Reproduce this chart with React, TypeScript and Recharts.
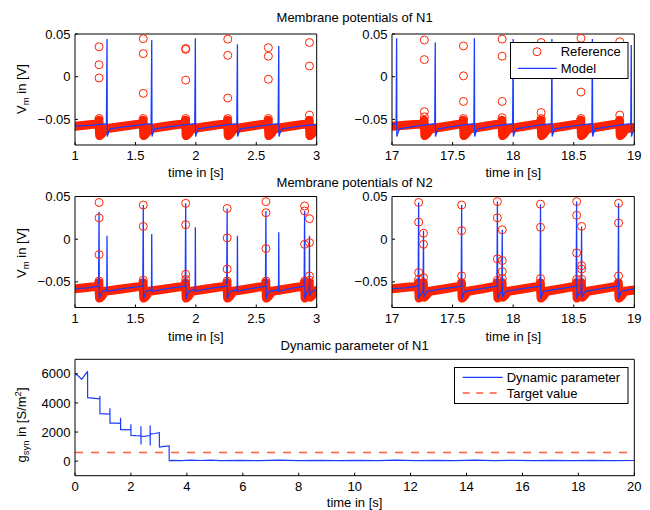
import React from 'react';
import { ComposedChart, Line, Scatter, XAxis, YAxis } from 'recharts';

type P = [number, number];

const W = 650;
const H = 510;
const FONT = '"Liberation Sans", Arial, Helvetica, sans-serif';
const RED = '#ff2200';
const BLUE = '#1a3cff';
const TARGET_RED = '#ff5a3c';

const V_DOMAIN: [number, number] = [-0.08, 0.05];
const V_TICKS = [-0.05, 0, 0.05];
const EARLY_TICKS = [1, 1.5, 2, 2.5, 3];
const LATE_TICKS = [17, 17.5, 18, 18.5, 19];
const G_DOMAIN: [number, number] = [-1000, 7000];
const G_TICKS = [0, 2000, 4000, 6000];
const G_TIME_TICKS = [0, 2, 4, 6, 8, 10, 12, 14, 16, 18, 20];
const TARGET = 600;

// N1, 1..3 s
const N1_EARLY_BAND: P[] = [
  [1.0, -0.058], [1.1, -0.0565], [1.19, -0.055], [1.198, -0.051], [1.204, -0.069], [1.22, -0.067], [1.25, -0.061],
  [1.4, -0.058], [1.555, -0.055], [1.563, -0.051], [1.569, -0.069], [1.585, -0.067], [1.615, -0.061],
  [1.75, -0.058], [1.906, -0.055], [1.914, -0.051], [1.92, -0.069], [1.936, -0.067], [1.966, -0.061],
  [2.1, -0.058], [2.254, -0.055], [2.262, -0.051], [2.268, -0.069], [2.284, -0.067], [2.314, -0.061],
  [2.45, -0.058], [2.59, -0.055], [2.598, -0.051], [2.604, -0.069], [2.62, -0.067], [2.65, -0.061],
  [2.78, -0.058], [2.93, -0.055], [2.938, -0.051], [2.944, -0.069], [2.96, -0.067], [2.99, -0.061], [3.0, -0.06],
];
const N1_EARLY_DOTS: P[] = [
  [1.199, 0.035], [1.199, 0.014], [1.199, -0.0015], [1.199, -0.049],
  [1.565, 0.0445], [1.565, 0.027], [1.565, -0.0195], [1.565, -0.049],
  [1.916, 0.033], [1.916, 0.032], [1.916, -0.004], [1.916, -0.049],
  [2.264, 0.044], [2.264, 0.025], [2.264, -0.025], [2.264, -0.049],
  [2.6, 0.034], [2.6, 0.024], [2.6, -0.003], [2.6, -0.049],
  [2.94, 0.04], [2.94, 0.0125], [2.94, -0.045],
];
const N1_EARLY_MODEL: P[] = [
  [1.0, -0.058], [1.13, -0.057], [1.26, -0.055], [1.265, 0.044], [1.267, -0.07], [1.275, -0.066], [1.29, -0.061],
  [1.45, -0.058], [1.63, -0.055], [1.635, 0.043], [1.637, -0.07], [1.645, -0.066], [1.66, -0.061],
  [1.82, -0.058], [1.991, -0.055], [1.996, 0.045], [1.998, -0.07], [2.006, -0.066], [2.021, -0.061],
  [2.17, -0.058], [2.339, -0.055], [2.344, 0.038], [2.346, -0.07], [2.354, -0.066], [2.369, -0.061],
  [2.52, -0.058], [2.681, -0.055], [2.686, 0.036], [2.688, -0.07], [2.696, -0.066], [2.711, -0.061],
  [2.86, -0.058], [3.0, -0.056],
];

// N1, 17..19 s
const N1_LATE_BAND: P[] = [
  [17.0, -0.058], [17.13, -0.0565], [17.257, -0.055], [17.265, -0.051], [17.271, -0.069], [17.287, -0.067], [17.317, -0.061],
  [17.45, -0.058], [17.58, -0.055], [17.588, -0.051], [17.594, -0.069], [17.61, -0.067], [17.64, -0.061],
  [17.77, -0.058], [17.899, -0.055], [17.907, -0.051], [17.913, -0.069], [17.929, -0.067], [17.959, -0.061],
  [18.09, -0.058], [18.221, -0.055], [18.229, -0.051], [18.235, -0.069], [18.251, -0.067], [18.281, -0.061],
  [18.42, -0.058], [18.55, -0.055], [18.558, -0.051], [18.564, -0.069], [18.58, -0.067], [18.61, -0.061],
  [18.74, -0.058], [18.87, -0.055], [18.878, -0.051], [18.884, -0.069], [18.9, -0.067], [18.93, -0.061], [19.0, -0.0595],
];
const N1_LATE_DOTS: P[] = [
  [17.267, 0.043], [17.267, 0.02], [17.267, -0.041], [17.267, -0.047],
  [17.59, 0.036], [17.59, 0.001], [17.59, -0.029], [17.59, -0.049],
  [17.909, 0.044], [17.909, 0.024], [17.909, -0.029], [17.909, -0.048],
  [18.231, 0.04], [18.231, -0.042], [18.231, -0.049],
  [18.56, 0.045], [18.56, -0.018], [18.56, -0.049],
  [18.88, 0.041], [18.88, -0.045],
];
const N1_LATE_MODEL: P[] = [
  [17.0, -0.056], [17.034, -0.055], [17.038, 0.045], [17.04, -0.07], [17.048, -0.066], [17.063, -0.061],
  [17.2, -0.058], [17.353, -0.055], [17.357, 0.04], [17.359, -0.07], [17.367, -0.066], [17.382, -0.061],
  [17.52, -0.058], [17.676, -0.055], [17.68, 0.045], [17.682, -0.07], [17.69, -0.066], [17.705, -0.061],
  [17.84, -0.058], [17.996, -0.055], [18.0, 0.044], [18.002, -0.07], [18.01, -0.066], [18.025, -0.061],
  [18.16, -0.058], [18.316, -0.055], [18.32, 0.044], [18.322, -0.07], [18.33, -0.066], [18.345, -0.061],
  [18.49, -0.058], [18.65, -0.055], [18.654, 0.044], [18.656, -0.07], [18.664, -0.066], [18.679, -0.061],
  [18.82, -0.058], [18.971, -0.055], [18.975, 0.037], [18.977, -0.07], [18.985, -0.066], [19.0, -0.063],
];

// N2, 1..3 s
const N2_EARLY_BAND: P[] = [
  [1.0, -0.058], [1.1, -0.0565], [1.189, -0.055], [1.197, -0.051], [1.203, -0.069], [1.219, -0.067], [1.249, -0.061],
  [1.4, -0.058], [1.555, -0.055], [1.563, -0.051], [1.569, -0.069], [1.585, -0.067], [1.615, -0.061],
  [1.76, -0.058], [1.906, -0.055], [1.914, -0.051], [1.92, -0.069], [1.936, -0.067], [1.966, -0.061],
  [2.1, -0.058], [2.249, -0.055], [2.257, -0.051], [2.263, -0.069], [2.279, -0.067], [2.309, -0.061],
  [2.44, -0.058], [2.57, -0.055], [2.578, -0.051], [2.584, -0.069], [2.6, -0.067], [2.63, -0.061],
  [2.76, -0.058], [2.89, -0.055], [2.898, -0.051], [2.904, -0.069], [2.92, -0.066], [2.935, -0.062],
  [2.938, -0.051], [2.944, -0.068], [2.96, -0.066], [2.985, -0.061], [3.0, -0.06],
];
const N2_EARLY_DOTS: P[] = [
  [1.199, 0.043], [1.199, 0.025], [1.199, -0.018], [1.199, -0.049],
  [1.565, 0.04], [1.565, 0.015], [1.565, -0.048],
  [1.916, 0.042], [1.916, 0.017], [1.916, -0.041], [1.916, -0.047],
  [2.259, 0.036], [2.259, 0.0015], [2.259, -0.035], [2.259, -0.049],
  [2.58, 0.044], [2.58, 0.031], [2.58, -0.011], [2.58, -0.049],
  [2.9, 0.039], [2.9, 0.033], [2.9, -0.006], [2.9, -0.049],
  [2.94, 0.024], [2.94, -0.004], [2.94, -0.043], [2.94, -0.048],
];
const N2_EARLY_MODEL: P[] = [
  [1.0, -0.058], [1.1, -0.057], [1.195, -0.055], [1.199, 0.032], [1.201, -0.07], [1.209, -0.066], [1.225, -0.061],
  [1.263, -0.0595], [1.265, 0.004], [1.267, -0.061],
  [1.4, -0.058], [1.561, -0.055], [1.565, 0.04], [1.567, -0.07], [1.575, -0.066], [1.59, -0.061],
  [1.633, -0.0595], [1.635, 0.006], [1.637, -0.061],
  [1.76, -0.058], [1.912, -0.055], [1.916, 0.042], [1.918, -0.07], [1.926, -0.066], [1.941, -0.061],
  [1.994, -0.0595], [1.996, 0.014], [1.998, -0.061],
  [2.1, -0.058], [2.255, -0.055], [2.259, 0.036], [2.261, -0.07], [2.269, -0.066], [2.284, -0.061],
  [2.342, -0.0595], [2.344, 0.004], [2.346, -0.061],
  [2.45, -0.058], [2.576, -0.055], [2.58, 0.033], [2.582, -0.07], [2.59, -0.066], [2.605, -0.061],
  [2.684, -0.0595], [2.686, 0.008], [2.688, -0.061],
  [2.78, -0.058], [2.896, -0.055], [2.9, 0.033], [2.902, -0.07], [2.91, -0.066], [2.925, -0.061],
  [2.938, -0.06], [2.94, 0.004], [2.942, -0.066], [2.955, -0.062], [2.98, -0.06], [3.0, -0.059],
];

// N2, 17..19 s
const N2_LATE_BAND: P[] = [
  [17.0, -0.058], [17.1, -0.0565], [17.21, -0.055], [17.218, -0.051], [17.224, -0.069], [17.24, -0.066], [17.255, -0.062],
  [17.258, -0.051], [17.264, -0.068], [17.28, -0.066], [17.31, -0.061],
  [17.44, -0.058], [17.565, -0.055], [17.573, -0.051], [17.579, -0.069], [17.595, -0.067], [17.625, -0.061],
  [17.75, -0.058], [17.86, -0.055], [17.868, -0.051], [17.874, -0.069], [17.89, -0.066], [17.905, -0.062],
  [17.908, -0.051], [17.914, -0.068], [17.93, -0.066], [17.96, -0.061],
  [18.09, -0.058], [18.216, -0.055], [18.224, -0.051], [18.23, -0.069], [18.246, -0.067], [18.276, -0.061],
  [18.4, -0.058], [18.514, -0.055], [18.522, -0.051], [18.528, -0.069], [18.544, -0.066], [18.56, -0.062],
  [18.563, -0.051], [18.569, -0.068], [18.585, -0.066], [18.615, -0.061],
  [18.74, -0.058], [18.86, -0.055], [18.868, -0.051], [18.874, -0.069], [18.89, -0.067], [18.92, -0.061], [19.0, -0.0595],
];
const N2_LATE_DOTS: P[] = [
  [17.22, 0.043], [17.22, 0.02], [17.22, -0.039], [17.22, -0.047],
  [17.26, 0.007], [17.26, -0.006], [17.26, -0.045],
  [17.575, 0.04], [17.575, 0.01], [17.575, -0.043],
  [17.87, 0.044], [17.87, 0.025], [17.87, -0.023], [17.87, -0.048],
  [17.91, 0.011], [17.91, -0.025], [17.91, -0.038], [17.91, -0.046],
  [18.226, 0.041], [18.226, 0.014], [18.226, -0.046],
  [18.524, 0.044], [18.524, 0.028], [18.524, -0.016], [18.524, -0.047],
  [18.565, 0.015], [18.565, -0.031], [18.565, -0.035], [18.565, -0.047],
  [18.87, 0.042], [18.87, 0.019], [18.87, -0.043],
];
const N2_LATE_MODEL: P[] = [
  [17.0, -0.058], [17.11, -0.057], [17.216, -0.055], [17.22, 0.043], [17.222, -0.07], [17.23, -0.066],
  [17.256, -0.061], [17.26, 0.01], [17.262, -0.068], [17.272, -0.065], [17.29, -0.061],
  [17.43, -0.058], [17.571, -0.055], [17.575, 0.04], [17.577, -0.07], [17.585, -0.066], [17.6, -0.061],
  [17.74, -0.058], [17.866, -0.055], [17.87, 0.044], [17.872, -0.07], [17.88, -0.066],
  [17.906, -0.061], [17.91, 0.011], [17.912, -0.068], [17.922, -0.065], [17.94, -0.061],
  [18.08, -0.058], [18.222, -0.055], [18.226, 0.041], [18.228, -0.07], [18.236, -0.066], [18.251, -0.061],
  [18.39, -0.058], [18.52, -0.055], [18.524, 0.044], [18.526, -0.07], [18.534, -0.066],
  [18.561, -0.061], [18.565, 0.015], [18.567, -0.068], [18.577, -0.065], [18.595, -0.061],
  [18.73, -0.058], [18.866, -0.055], [18.87, 0.042], [18.872, -0.07], [18.88, -0.066], [18.895, -0.061], [19.0, -0.058],
];

// dynamic parameter g_syn of N1
const G_SYN: P[] = [
  [0, 6050], [0.12, 5850], [0.24, 5620], [0.36, 5950], [0.44, 6150], [0.45, 6100], [0.452, 4360],
  [0.7, 4320], [0.885, 4290], [0.89, 4470], [0.892, 3260],
  [1.05, 3250], [1.245, 3230], [1.25, 3640], [1.252, 2620],
  [1.45, 2620], [1.625, 2600], [1.63, 2990], [1.632, 2160],
  [1.8, 2160], [1.995, 2150], [2.0, 2530], [2.002, 1770],
  [2.18, 1750], [2.355, 1740], [2.358, 2390], [2.36, 1140], [2.362, 1700],
  [2.52, 1720], [2.685, 1760], [2.688, 2450], [2.69, 1080], [2.692, 1860],
  [2.85, 1900], [3.015, 1950], [3.02, 970], [3.2, 1010], [3.365, 1050], [3.37, 20],
  [3.45, 50], [3.8, 40], [4.15, 70], [4.5, 45], [4.85, 65], [5.2, 40], [5.9, 60], [6.6, 35],
  [7.3, 65], [8.0, 40], [8.7, 60], [9.4, 35], [10.1, 60], [10.8, 40], [11.5, 65], [12.2, 35],
  [12.9, 60], [13.6, 40], [14.3, 65], [15.0, 35], [15.7, 60], [16.4, 40], [17.1, 60], [17.8, 35],
  [18.5, 60], [19.2, 40], [20, 45],
];

const pts = (a: P[]) => a.map(([t, v]) => ({ t, v }));
const fmtV = (v: number) => (v < 0 ? '\u2212' + String(Math.abs(v)) : String(v));

const tickStyle = { fill: '#000', fontSize: 13 };
const AX_B = 30; // bottom axis band
const AX_L = 60; // left axis band
const AX_S = 4; // top / right axis band

function Panel({ box, xDomain, xTicks, yDomain, yTicks, yFmt, children }: any) {
  const [l, t, r, b] = box;
  return (
    <div style={{ position: 'absolute', left: 0, top: 0 }}>
      <ComposedChart width={W} height={H}
        margin={{ left: l - AX_L, top: t - AX_S, right: W - r - AX_S, bottom: H - b - AX_B }}>
        <XAxis xAxisId="b" dataKey="t" type="number" domain={xDomain} ticks={xTicks} interval={0}
          allowDataOverflow height={AX_B} tickSize={-3} tickMargin={9} tick={tickStyle}
          axisLine={{ stroke: '#000' }} tickLine={{ stroke: '#000' }} />
        <XAxis xAxisId="top" orientation="top" dataKey="t" type="number" domain={xDomain} ticks={xTicks}
          interval={0} allowDataOverflow height={AX_S} tickSize={-3} tick={false}
          axisLine={{ stroke: '#000' }} tickLine={{ stroke: '#000' }} />
        <YAxis yAxisId="l" type="number" domain={yDomain} ticks={yTicks} interval={0} allowDataOverflow
          width={AX_L} tickSize={-3} tickMargin={7.5} tick={tickStyle} tickFormatter={yFmt}
          axisLine={{ stroke: '#000' }} tickLine={{ stroke: '#000' }} />
        <YAxis yAxisId="right" orientation="right" type="number" domain={yDomain} ticks={yTicks} interval={0}
          allowDataOverflow width={AX_S} tickSize={-3} tick={false}
          axisLine={{ stroke: '#000' }} tickLine={{ stroke: '#000' }} />
        {children}
      </ComposedChart>
    </div>
  );
}

const ring = (p: any) => <circle cx={p.cx} cy={p.cy} r={4} fill="none" stroke={RED} strokeWidth={1} />;

function Trace({ box, ticks, band, dots, model }: any) {
  return (
    <Panel box={box} xDomain={[ticks[0], ticks[ticks.length - 1]]} xTicks={ticks}
      yDomain={V_DOMAIN} yTicks={V_TICKS} yFmt={fmtV}>
      <Line xAxisId="b" yAxisId="l" data={pts(band)} dataKey="v" stroke={RED} strokeWidth={9}
        strokeLinejoin="round" strokeLinecap="round" dot={false} activeDot={false} isAnimationActive={false} />
      <Scatter xAxisId="b" yAxisId="l" data={pts(dots)} dataKey="v" shape={ring} isAnimationActive={false} />
      <Line xAxisId="b" yAxisId="l" data={pts(model)} dataKey="v" stroke={BLUE} strokeWidth={1.3}
        dot={false} activeDot={false} isAnimationActive={false} />
    </Panel>
  );
}

const txt = (x: number, y: number, extra: any = {}) => ({
  position: 'absolute' as const, left: x, top: y, transform: 'translate(-50%,-50%)',
  whiteSpace: 'nowrap' as const, fontSize: 13, ...extra,
});
const rot = (x: number, y: number) => txt(x, y, { transform: 'translate(-50%,-50%) rotate(-90deg)' });

export default function App() {
  const LEFT_L = 75, LEFT_R = 316.7, RIGHT_L = 392, RIGHT_R = 634.3;
  return (
    <div style={{ position: 'absolute', left: 0, top: 0, width: W, height: H, background: '#fff', fontFamily: FONT, color: '#000' }}>
      <Trace box={[LEFT_L, 34, LEFT_R, 145]} ticks={EARLY_TICKS} band={N1_EARLY_BAND} dots={N1_EARLY_DOTS} model={N1_EARLY_MODEL} />
      <Trace box={[RIGHT_L, 34, RIGHT_R, 145]} ticks={LATE_TICKS} band={N1_LATE_BAND} dots={N1_LATE_DOTS} model={N1_LATE_MODEL} />
      <Trace box={[LEFT_L, 196.5, LEFT_R, 307.5]} ticks={EARLY_TICKS} band={N2_EARLY_BAND} dots={N2_EARLY_DOTS} model={N2_EARLY_MODEL} />
      <Trace box={[RIGHT_L, 196.5, RIGHT_R, 307.5]} ticks={LATE_TICKS} band={N2_LATE_BAND} dots={N2_LATE_DOTS} model={N2_LATE_MODEL} />
      <Panel box={[LEFT_L, 359.3, RIGHT_R, 475.7]} xDomain={[0, 20]} xTicks={G_TIME_TICKS}
        yDomain={G_DOMAIN} yTicks={G_TICKS} yFmt={(v: number) => String(v)}>
        <Line xAxisId="b" yAxisId="l" data={[{ t: 0, v: TARGET }, { t: 20, v: TARGET }]} dataKey="v"
          stroke={TARGET_RED} strokeWidth={1.5} strokeDasharray="8 8" dot={false} activeDot={false} isAnimationActive={false} />
        <Line xAxisId="b" yAxisId="l" data={pts(G_SYN)} dataKey="v" stroke={BLUE} strokeWidth={1.2}
          dot={false} activeDot={false} isAnimationActive={false} />
      </Panel>

      <div style={txt(354.6, 17)}>Membrane potentials of N1</div>
      <div style={txt(354.6, 181.7)}>Membrane potentials of N2</div>
      <div style={txt(354.6, 345)}>Dynamic parameter of N1</div>
      <div style={txt(195.9, 172)}>time in [s]</div>
      <div style={txt(513.2, 172)}>time in [s]</div>
      <div style={txt(195.9, 336)}>time in [s]</div>
      <div style={txt(513.2, 336)}>time in [s]</div>
      <div style={txt(354.6, 502)}>time in [s]</div>
      <div style={rot(21, 89)}>V<span style={{ fontSize: 9.5, position: 'relative', top: 3 }}>m</span> in [V]</div>
      <div style={rot(21, 253)}>V<span style={{ fontSize: 9.5, position: 'relative', top: 3 }}>m</span> in [V]</div>
      <div style={rot(21, 425)}>g<span style={{ fontSize: 9.5, position: 'relative', top: 3 }}>syn</span> in [S/m<span style={{ fontSize: 9.5, position: 'relative', top: -5 }}>2</span>]</div>

      <svg style={{ position: 'absolute', left: 510, top: 42 }} width={119} height={38}>
        <rect x={0.5} y={0.5} width={117.5} height={36} fill="#fff" stroke="#000" />
        <circle cx={27} cy={9.7} r={4} fill="none" stroke={RED} strokeWidth={1} />
        <text x={50.7} y={9.7} dominantBaseline="central" fontSize={13}>Reference</text>
        <line x1={8} x2={46.7} y1={26.3} y2={26.3} stroke={BLUE} strokeWidth={1.3} />
        <text x={50.7} y={26.3} dominantBaseline="central" fontSize={13}>Model</text>
      </svg>
      <svg style={{ position: 'absolute', left: 454, top: 367 }} width={175} height={38}>
        <rect x={0.5} y={0.5} width={173.5} height={36} fill="#fff" stroke="#000" />
        <line x1={8.7} x2={48.7} y1={10.3} y2={10.3} stroke={BLUE} strokeWidth={1.2} />
        <text x={52.7} y={10.3} dominantBaseline="central" fontSize={13}>Dynamic parameter</text>
        <line x1={8.7} x2={48.7} y1={26} y2={26} stroke={TARGET_RED} strokeWidth={1.5} strokeDasharray="7 6.5" />
        <text x={52.7} y={26} dominantBaseline="central" fontSize={13}>Target value</text>
      </svg>
    </div>
  );
}
